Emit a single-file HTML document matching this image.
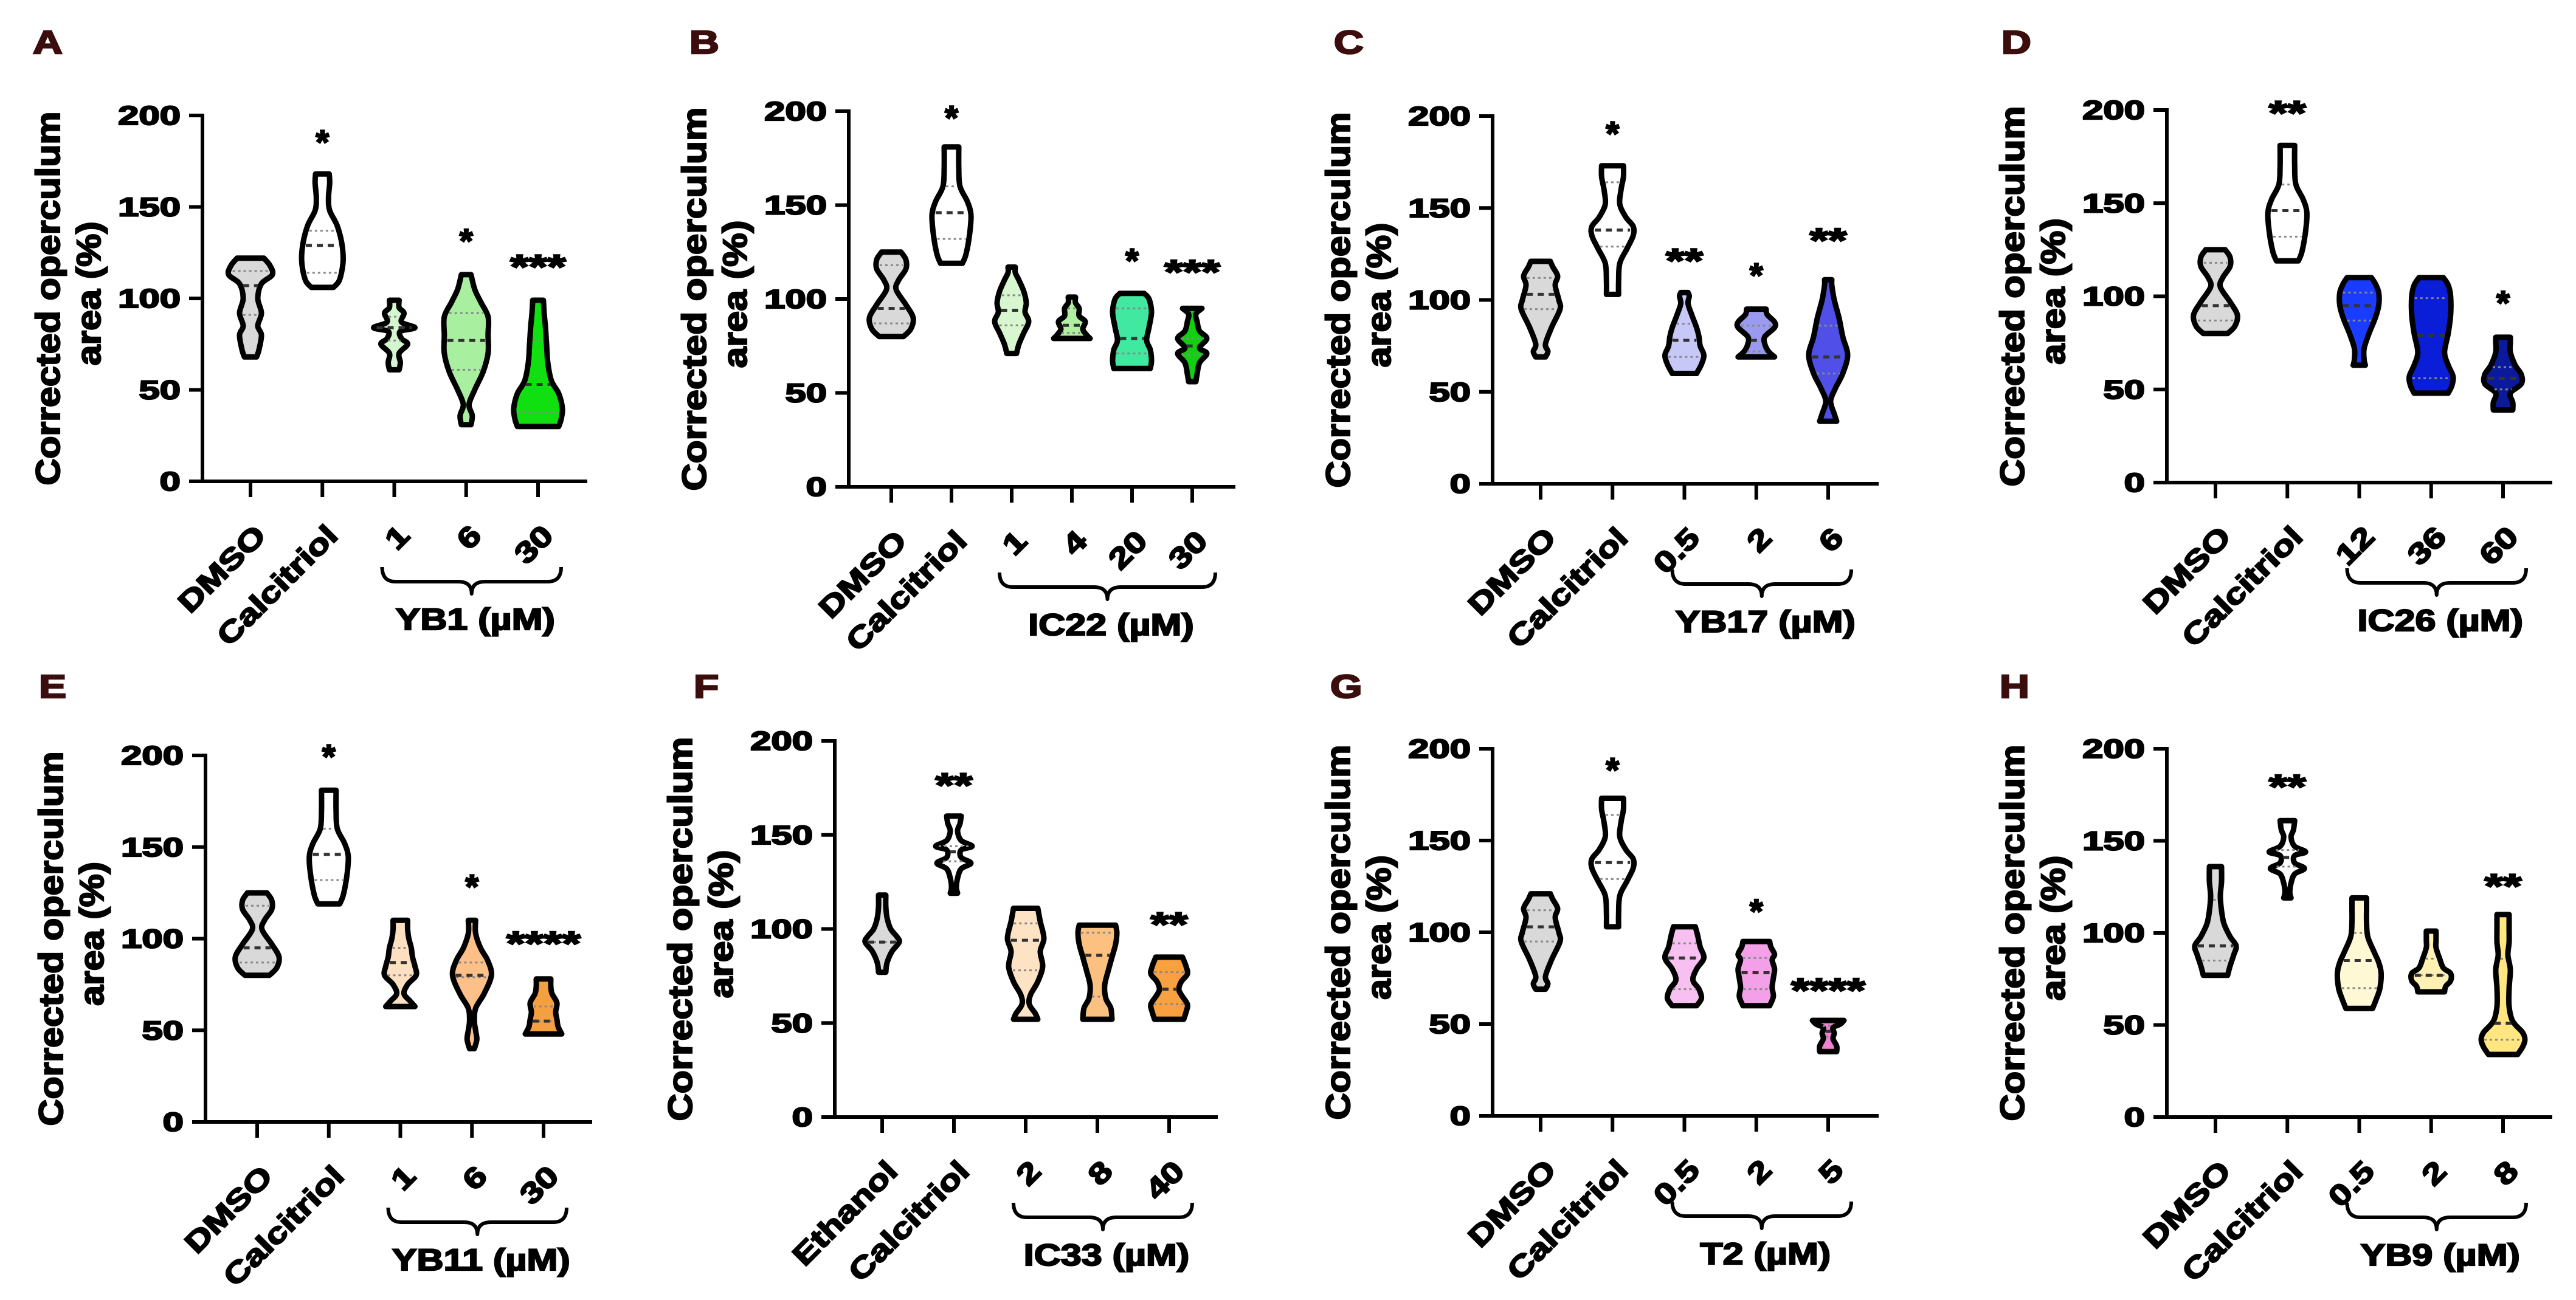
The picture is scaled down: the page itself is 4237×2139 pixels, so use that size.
<!DOCTYPE html>
<html><head><meta charset="utf-8">
<style>
html,body{margin:0;padding:0;background:#fff;}
svg{display:block;}
text{font-family:"Liberation Sans",Arial,sans-serif;font-weight:bold;fill:#000;stroke:#000;stroke-width:1.6px;}
</style></head>
<body>
<svg id="fig" width="4237" height="2139" viewBox="0 0 4237 2139" xmlns="http://www.w3.org/2000/svg"></svg>
<script>
// ---------- DATA (percent values) ----------
const aCats=["DMSO","Calcitriol","1","6","30"];
const aGroup="YB1 (µM)";
const aFill=["#d9d9d9","#ffffff","#d4f7d0","#a8f0a0","#10e010"];
const aStars=["","*","","*","***"];
const aStarVal=[0,189,0,135,121];
const aQuart=[[91,107,115],[114,129,137],[77,84,90],[61,77,92],[38,53,77]];
const aProf=[
 [[68,.25],[72,.35],[80,.45],[85,.3],[92,.45],[100,.3],[108,.45],[113,.9],[118,.8],[122,.55]],
 [[106,.45],[110,.7],[120,.85],[130,.8],[140,.6],[148,.3],[155,.25],[163,.3],[168,.28]],
 [[61,.2],[65,.25],[70,.2],[75,.55],[78,.3],[82,.25],[84,.85],[87,.3],[92,.4],[95,.2],[99,.2]],
 [[31,.2],[36,.25],[42,.12],[50,.35],[60,.7],[70,.9],[80,.9],[90,.9],[98,.6],[105,.35],[113,.2]],
 [[30,.85],[34,.95],[40,1.0],[48,.85],[55,.55],[65,.4],[75,.35],[85,.3],[92,.25],[99,.22]]];

const bCats=["DMSO","Calcitriol","1","4","20","30"];
const bGroup="IC22 (µM)";
const bFill=["#d9d9d9","#ffffff","#d8f7d0","#b0f0a0","#40e8a0","#10d010"];
const bStars=["","*","","","*","***"];
const bStarVal=[0,200,0,0,124,118];
const bQuart=[[87,95,118],[132,146,160],[86,94,102],[82,86,95],[71,79,95],[70,75,79]];
const bProf=[
 [[80,.5],[84,.8],[90,.9],[97,.6],[105,.2],[110,.3],[116,.6],[121,.6],[125,.4]],
 [[119,.45],[124,.6],[135,.75],[145,.8],[152,.65],[160,.35],[170,.3],[181,.3]],
 [[71,.2],[76,.3],[82,.5],[88,.7],[93,.55],[98,.6],[104,.5],[110,.3],[114,.15],[117,.15]],
 [[79,.75],[81,.6],[84,.45],[88,.55],[91,.3],[95,.3],[98,.15],[101,.15]],
 [[63,.75],[67,.8],[73,.75],[78,.6],[85,.7],[93,.8],[100,.7],[103,.5]],
 [[56,.15],[60,.2],[66,.3],[71,.6],[74,.3],[79,.6],[83,.3],[88,.2],[92,.15],[95,.4]]];

const cCats=["DMSO","Calcitriol","0.5","2","6"];
const cGroup="YB17 (µM)";
const cFill=["#d9d9d9","#ffffff","#c8c8f8","#9a9af0","#5050e8"];
const cStars=["","*","**","*","**"];
const cStarVal=[0,194,125,117,136];
const cQuart=[[95,103,112],[129,138,164],[69,78,87],[72,78,86],[60,69,86]];
const cProf=[
 [[69,.2],[72,.3],[76,.2],[85,.45],[95,.8],[100,.75],[108,.6],[113,.7],[118,.5],[121,.4]],
 [[103,.25],[110,.25],[120,.3],[128,.6],[135,.85],[140,.85],[145,.55],[152,.3],[160,.35],[167,.45],[173,.45]],
 [[60,.5],[65,.7],[70,.8],[75,.65],[80,.6],[85,.5],[92,.3],[98,.15],[102,.2],[104,.15]],
 [[69,.75],[72,.5],[76,.35],[80,.35],[85,.75],[88,.75],[92,.45],[95,.4]],
 [[34,.35],[38,.25],[45,.1],[52,.3],[60,.6],[70,.8],[80,.6],[90,.45],[100,.25],[108,.15],[111,.15]]];

const dCats=["DMSO","Calcitriol","12","36","60"];
const dGroup="IC26 (µM)";
const dFill=["#d9d9d9","#ffffff","#1a3cff","#0a1ed8","#0a1a9a"];
const dStars=["","**","","","*"];
const dStarVal=[0,202,0,0,100];
const dQuart=[[87,95,118],[132,146,160],[87,95,102],[56,79,99],[50,56,62]];
const dProf=[
 [[80,.5],[84,.8],[90,.9],[97,.6],[105,.2],[110,.3],[116,.6],[121,.6],[125,.4]],
 [[119,.45],[124,.6],[135,.75],[145,.8],[152,.65],[160,.35],[170,.3],[181,.3]],
 [[63,.25],[66,.2],[72,.2],[80,.4],[88,.65],[95,.8],[102,.8],[107,.65],[110,.5]],
 [[48,.7],[52,.85],[57,.9],[63,.7],[70,.55],[80,.7],[90,.8],[100,.8],[106,.7],[110,.5]],
 [[39,.4],[43,.4],[48,.3],[53,.75],[58,.75],[63,.5],[70,.3],[75,.3],[78,.3]]];

const eCats=["DMSO","Calcitriol","1","6","30"];
const eGroup="YB11 (µM)";
const eFill=["#d9d9d9","#ffffff","#fde0c0","#fcc088","#f5a040"];
const eStars=["","*","","*","****"];
const eStarVal=[0,203,0,132,101];
const eQuart=[[87,95,118],[132,146,160],[80,87,95],[79,80,87],[55,55,63]];
const eProf=[
 [[80,.5],[84,.8],[90,.9],[97,.6],[105,.2],[110,.3],[116,.6],[121,.6],[125,.4]],
 [[119,.45],[124,.6],[135,.75],[145,.8],[152,.65],[160,.35],[170,.3],[181,.3]],
 [[63,.6],[66,.4],[70,.15],[75,.3],[80,.65],[85,.6],[90,.5],[95,.45],[100,.35],[105,.3],[110,.3]],
 [[40,.1],[45,.2],[50,.15],[55,.1],[62,.15],[70,.5],[80,.8],[88,.65],[95,.35],[103,.15],[110,.15]],
 [[48,.75],[52,.6],[56,.55],[60,.5],[65,.55],[70,.35],[74,.3],[78,.3]]];

const fCats=["Ethanol","Calcitriol","2","8","40"];
const fGroup="IC33 (µM)";
const fFill=["#d9d9d9","#ffffff","#fde3c4","#fcc080","#f9a040"];
const fStars=["","**","","","**"];
const fStarVal=[0,180,0,0,106];
const fQuart=[[93,93,110],[136,141,144],[78,94,103],[64,86,98],[60,68,77]];
const fProf=[
 [[77,.15],[82,.2],[88,.4],[93,.7],[96,.6],[100,.35],[106,.2],[112,.15],[118,.15]],
 [[119,.15],[122,.1],[127,.15],[132,.3],[135,.7],[138,.3],[142,.3],[144,.75],[147,.3],[152,.15],[156,.25],[160,.3]],
 [[52,.5],[55,.4],[60,.15],[65,.2],[72,.5],[80,.7],[88,.6],[95,.75],[104,.6],[111,.5]],
 [[52,.6],[58,.55],[63,.35],[70,.3],[78,.45],[85,.6],[92,.75],[98,.8],[102,.75]],
 [[52,.6],[56,.7],[60,.75],[65,.5],[68,.4],[72,.5],[76,.75],[80,.7],[85,.55]]];

const gCats=["DMSO","Calcitriol","0.5","2","5"];
const gGroup="T2 (µM)";
const gFill=["#d9d9d9","#ffffff","#f8c0f0","#f4a0e8","#f080d0"];
const gStars=["","*","","*","****"];
const gStarVal=[0,192,0,115,72];
const gQuart=[[95,103,112],[129,138,164],[69,86,94],[69,78,86],[43,46,49]];
const gProf=[
 [[69,.2],[72,.3],[76,.2],[85,.45],[95,.8],[100,.75],[108,.6],[113,.7],[118,.5],[121,.4]],
 [[103,.25],[110,.25],[120,.3],[128,.6],[135,.85],[140,.85],[145,.55],[152,.3],[160,.35],[167,.45],[173,.45]],
 [[60,.5],[64,.7],[69,.6],[74,.35],[80,.5],[86,.8],[92,.65],[98,.55],[103,.45]],
 [[60,.55],[65,.7],[70,.65],[75,.7],[80,.75],[85,.65],[88,.75],[92,.6],[95,.55]],
 [[35,.35],[38,.35],[42,.2],[45,.25],[48,.2],[50,.5],[52,.65]]];

const hCats=["DMSO","Calcitriol","0.5","2","8"];
const hGroup="YB9 (µM)";
const hFill=["#d9d9d9","#ffffff","#fff8d4","#fff0b4","#ffe680"];
const hStars=["","**","","","**"];
const hStarVal=[0,183,0,0,129];
const hQuart=[[85,93,118],[136,141,145],[70,85,100],[77,77,86],[42,51,86]];
const hProf=[
 [[77,.5],[82,.6],[88,.75],[93,.85],[98,.6],[105,.35],[112,.25],[120,.2],[128,.25],[136,.25]],
 [[119,.15],[122,.1],[127,.15],[132,.3],[135,.7],[138,.3],[142,.3],[144,.75],[147,.3],[152,.15],[156,.25],[161,.3]],
 [[59,.55],[64,.7],[70,.85],[78,.9],[84,.8],[90,.6],[98,.35],[106,.3],[113,.3],[119,.3]],
 [[68,.55],[71,.6],[74,.8],[78,.8],[81,.5],[86,.35],[92,.2],[96,.2],[101,.2]],
 [[34,.6],[38,.8],[42,.9],[46,.8],[52,.4],[60,.25],[70,.25],[80,.3],[88,.2],[95,.25],[103,.25],[110,.25]]];

const yTicks=[0,50,100,150,200];
const yTickLabels=["0","50","100","150","200"];

// ---------- LAYOUT ----------
const panels=[
 {id:"a",L:"A",cats:aCats,grp:aGroup,fill:aFill,stars:aStars,sv:aStarVal,q:aQuart,p:aProf, ax:333,y0:792,y200:190,xe:966,c0:412,c1:885,lx:54,ly:88},
 {id:"b",L:"B",cats:bCats,grp:bGroup,fill:bFill,stars:bStars,sv:bStarVal,q:bQuart,p:bProf, ax:1396,y0:801,y200:183,xe:2032,c0:1466,c1:1961,lx:1134,ly:88},
 {id:"c",L:"C",cats:cCats,grp:cGroup,fill:cFill,stars:cStars,sv:cStarVal,q:cQuart,p:cProf, ax:2455,y0:796,y200:191,xe:3090,c0:2534,c1:3007,lx:2194,ly:88},
 {id:"d",L:"D",cats:dCats,grp:dGroup,fill:dFill,stars:dStars,sv:dStarVal,q:dQuart,p:dProf, ax:3564,y0:794,y200:181,xe:4198,c0:3644,c1:4117,lx:3292,ly:88},
 {id:"e",L:"E",cats:eCats,grp:eGroup,fill:eFill,stars:eStars,sv:eStarVal,q:eQuart,p:eProf, ax:338,y0:1846,y200:1243,xe:974,c0:423,c1:894,lx:64,ly:1148},
 {id:"f",L:"F",cats:fCats,grp:fGroup,fill:fFill,stars:fStars,sv:fStarVal,q:fQuart,p:fProf, ax:1373,y0:1838,y200:1219,xe:2003,c0:1451,c1:1923,lx:1141,ly:1148},
 {id:"g",L:"G",cats:gCats,grp:gGroup,fill:gFill,stars:gStars,sv:gStarVal,q:gQuart,p:gProf, ax:2455,y0:1836,y200:1232,xe:3090,c0:2534,c1:3007,lx:2188,ly:1148},
 {id:"h",L:"H",cats:hCats,grp:hGroup,fill:hFill,stars:hStars,sv:hStarVal,q:hQuart,p:hProf, ax:3564,y0:1838,y200:1232,xe:4198,c0:3644,c1:4117,lx:3289,ly:1148}
];

const NS="http://www.w3.org/2000/svg";
const svg=document.getElementById("fig");
function mk(tag,attrs,parent){const e=document.createElementNS(NS,tag);for(const k in attrs)e.setAttribute(k,attrs[k]);(parent||svg).appendChild(e);return e;}
function widen(t,f){const n=t.getComputedTextLength();t.setAttribute("textLength",(n*f).toFixed(1));t.setAttribute("lengthAdjust","spacingAndGlyphs");}

function smoothSide(pts){
  let d="";
  for(let i=0;i<pts.length-1;i++){
    const p0=pts[Math.max(0,i-1)],p1=pts[i],p2=pts[i+1],p3=pts[Math.min(pts.length-1,i+2)];
    const c1=[p1[0]+(p2[0]-p0[0])/6,p1[1]+(p2[1]-p0[1])/6];
    const c2=[p2[0]-(p3[0]-p1[0])/6,p2[1]-(p3[1]-p1[1])/6];
    d+=` C${c1[0].toFixed(1)},${c1[1].toFixed(1)} ${c2[0].toFixed(1)},${c2[1].toFixed(1)} ${p2[0].toFixed(1)},${p2[1].toFixed(1)}`;
  }
  return d;
}
function widthAt(prof,v){
  if(v<=prof[0][0])return prof[0][1];
  for(let i=0;i<prof.length-1;i++){const a=prof[i],b=prof[i+1];if(v>=a[0]&&v<=b[0])return a[1]+(b[1]-a[1])*(v-a[0])/(b[0]-a[0]);}
  return prof[prof.length-1][1];
}

panels.forEach(P=>{
  const g=mk("g",{});
  
  
  const yS=v=>P.y0-(v/200)*(P.y0-P.y200);
  const n=P.cats.length;
  const xS=i=>P.c0+i*(P.c1-P.c0)/(n-1);
  const W=40;
  const lt=mk("text",{x:P.lx,y:P.ly,"font-size":54,style:"fill:#3b0d0d;stroke:#3b0d0d;stroke-width:2.5px"},g);
  lt.textContent=P.L;
  
  
  widen(lt,1.25);
  const mid=(P.y0+P.y200)/2, len=(P.y0-P.y200)*615/602;
  const t1=mk("text",{x:0,y:0,"font-size":56,"text-anchor":"middle",transform:`translate(${P.ax-255+20},${mid}) rotate(-90)`,textLength:len.toFixed(0),lengthAdjust:"spacingAndGlyphs",style:"stroke-width:2.2px"},g);
  t1.textContent="Corrected operculum";
  
  
  const t2=mk("text",{x:0,y:0,"font-size":56,"text-anchor":"middle",transform:`translate(${P.ax-188+20},${mid-8}) rotate(-90)`,textLength:(len*237/615).toFixed(0),lengthAdjust:"spacingAndGlyphs",style:"stroke-width:2.2px"},g);
  t2.textContent="area (%)";
  
  
  const ya=mk("line",{x1:P.ax,y1:P.y200-3,x2:P.ax,y2:P.y0+3,stroke:"#000","stroke-width":6},g);
  
  
  const xa=mk("line",{x1:P.ax-22,y1:P.y0,x2:P.xe,y2:P.y0,stroke:"#000","stroke-width":6},g);
  
  
  yTicks.forEach((v,i)=>{
    const y=yS(v);
    const tk=mk("line",{x1:P.ax-22,y1:y,x2:P.ax,y2:y,stroke:"#000","stroke-width":6},g);
    
    
    const tl=mk("text",{x:P.ax-36,y:y+15,"font-size":44,"text-anchor":"end",style:"stroke-width:2.2px"},g);
    tl.textContent=yTickLabels[i];
    
    
    widen(tl,1.4);
  });
  P.cats.forEach((c,i)=>{
    const cx=xS(i);
    const tk=mk("line",{x1:cx,y1:P.y0,x2:cx,y2:P.y0+26,stroke:"#000","stroke-width":6},g);
    
    
    const tl=mk("text",{x:0,y:0,"font-size":48,"text-anchor":"end",transform:`translate(${cx+28},${P.y0+92}) rotate(-45)`,style:"stroke-width:2.2px"},g);
    tl.textContent=c;
    
    
    widen(tl,1.25);
    const prof=P.p[i];
    const right=prof.map(p=>[cx+p[1]*W,yS(p[0])]);
    const left=prof.slice().reverse().map(p=>[cx-p[1]*W,yS(p[0])]);
    let d=`M${cx},${right[0][1].toFixed(1)} L${right[0][0].toFixed(1)},${right[0][1].toFixed(1)}`+smoothSide(right)+
      ` L${left[0][0].toFixed(1)},${left[0][1].toFixed(1)}`+smoothSide(left)+" Z";
    const vp=mk("path",{d:d,fill:P.fill[i],stroke:"#000","stroke-width":9,"stroke-linejoin":"round"},g);
    
    
    P.q[i].forEach((qv,k)=>{
      const w=widthAt(prof,qv)*W-5;
      if(w<3)return;
      const ql=mk("line",{x1:cx-w,y1:yS(qv),x2:cx+w,y2:yS(qv),stroke:k==1?"#333":"#888","stroke-width":k==1?5:3,"stroke-dasharray":k==1?"10,8":"4,5"},g);
      
      
    });
    if(P.stars[i]){
      const st=mk("text",{x:cx,y:yS(P.sv[i])+30,"font-size":56,"text-anchor":"middle",style:"stroke-width:2.5px"},g);
      st.textContent=P.stars[i];
      
      
      if(P.stars[i].length>1)widen(st,1.4);
    }
  });
  const x1=xS(2)-20,x2=xS(n-1)+38,xm=(x1+x2)/2,yt=P.y0+141,yb=P.y0+165,yp=P.y0+185;
  const bd=`M${x1},${yt} Q${x1},${yb} ${x1+22},${yb} L${xm-22},${yb} Q${xm},${yb} ${xm},${yp} Q${xm},${yb} ${xm+22},${yb} L${x2-22},${yb} Q${x2},${yb} ${x2},${yt}`;
  const br=mk("path",{d:bd,fill:"none",stroke:"#000","stroke-width":6,"stroke-linejoin":"round"},g);
  
  
  const gl=mk("text",{x:xm+6,y:P.y0+244,"font-size":50,"text-anchor":"middle",style:"stroke-width:2.2px"},g);
  gl.textContent=P.grp;
  
  
  widen(gl,1.22);
});
</script>
</body></html>
